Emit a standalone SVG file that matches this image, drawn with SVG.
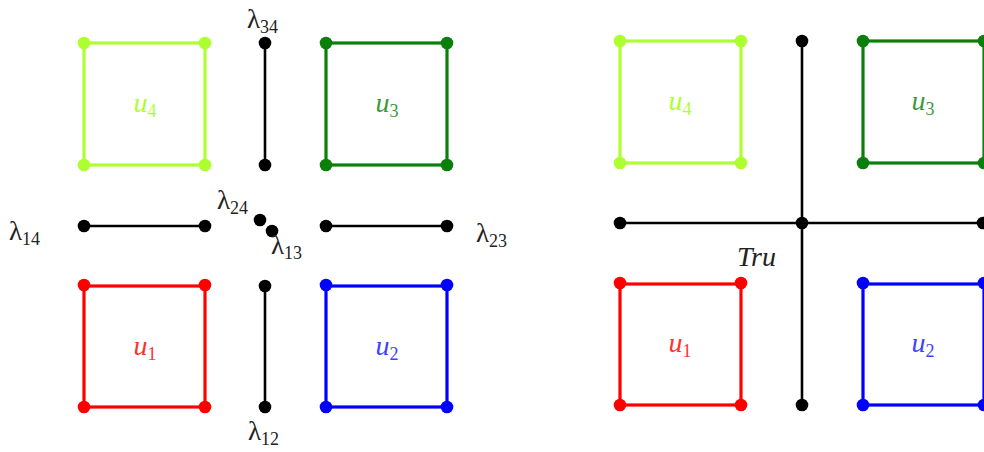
<svg xmlns="http://www.w3.org/2000/svg" width="984" height="452" viewBox="0 0 984 452">
<style>
.sq{fill:none;stroke-width:3.2}
.bl{stroke:#000;stroke-width:2.6;fill:none}
.lab{font-family:"Liberation Serif","DejaVu Serif",serif;font-size:28px}
.u{font-style:italic}
.sub{font-size:18px}
.lam{font-family:"Liberation Serif","DejaVu Serif",serif;font-size:27px;fill:#222}
</style>
<defs>
<g id="dots"><circle cx="0" cy="0" r="6.3"/><circle cx="121" cy="0" r="6.3"/><circle cx="0" cy="122" r="6.3"/><circle cx="121" cy="122" r="6.3"/></g>
</defs>
<rect width="984" height="452" fill="#fff"/>

<!-- Left panel -->
<g id="L_u4">
<rect class="sq" x="84" y="43" width="121" height="122" stroke="#adff2f"/>
<use href="#dots" x="84" y="43" fill="#adff2f"/>
<text class="lab" x="145" y="112" text-anchor="middle" fill="#adff2f"><tspan class="u">u</tspan><tspan class="sub" dy="5">4</tspan></text>
</g>
<g id="L_u3">
<rect class="sq" x="326" y="43" width="121" height="122" stroke="#0a800a"/>
<use href="#dots" x="326" y="43" fill="#0a800a"/>
<text class="lab" x="387" y="112" text-anchor="middle" fill="#3a9a3a"><tspan class="u">u</tspan><tspan class="sub" dy="5">3</tspan></text>
</g>
<g id="L_u1">
<rect class="sq" x="84" y="286" width="121" height="121" stroke="#ff0000"/>
<use href="#dots" x="84" y="285" fill="#ff0000"/>
<text class="lab" x="145" y="355" text-anchor="middle" fill="#ff3030"><tspan class="u">u</tspan><tspan class="sub" dy="5">1</tspan></text>
</g>
<g id="L_u2">
<rect class="sq" x="326" y="286" width="121" height="121" stroke="#0000ff"/>
<use href="#dots" x="326" y="285" fill="#0000ff"/>
<text class="lab" x="387" y="355" text-anchor="middle" fill="#4040ff"><tspan class="u">u</tspan><tspan class="sub" dy="5">2</tspan></text>
</g>

<g id="connectors">
<g id="lam34"><line class="bl" x1="265" y1="43" x2="265" y2="165"/><circle cx="265" cy="43" r="6.3"/><circle cx="265" cy="165" r="6.3"/></g>
<g id="lam12"><line class="bl" x1="265" y1="286" x2="265" y2="407"/><circle cx="265" cy="286" r="6.3"/><circle cx="265" cy="407" r="6.3"/></g>
<g id="lam14"><line class="bl" x1="84" y1="226" x2="205" y2="226"/><circle cx="84" cy="226" r="6.3"/><circle cx="205" cy="226" r="6.3"/></g>
<g id="lam23"><line class="bl" x1="326" y1="226" x2="447" y2="226"/><circle cx="326" cy="226" r="6.3"/><circle cx="447" cy="226" r="6.3"/></g>
<g id="lam24"><circle cx="260" cy="220" r="6.3"/></g>
<g id="lam13"><circle cx="272" cy="231" r="6.3"/></g>
<g id="R_cross">
<line class="bl" x1="802" y1="41" x2="802" y2="405"/>
<line class="bl" x1="620" y1="223" x2="990" y2="223"/>
<circle cx="802" cy="41" r="6.3"/><circle cx="802" cy="405" r="6.3"/><circle cx="620" cy="223" r="6.3"/><circle cx="802" cy="223" r="6.3"/><circle cx="983" cy="223" r="6.3"/>
</g>
</g>

<g id="lambda_labels">
<text class="lam" x="247" y="28">λ<tspan class="sub" dy="5">34</tspan></text>
<text class="lam" x="9" y="240">λ<tspan class="sub" dy="5">14</tspan></text>
<text class="lam" x="217" y="209">λ<tspan class="sub" dy="5">24</tspan></text>
<text class="lam" x="271" y="254">λ<tspan class="sub" dy="5">13</tspan></text>
<text class="lam" x="476" y="242">λ<tspan class="sub" dy="5">23</tspan></text>
<text class="lam" x="248" y="440">λ<tspan class="sub" dy="5">12</tspan></text>
</g>

<!-- Right panel -->
<g id="R_u4">
<rect class="sq" x="620" y="41" width="121" height="122" stroke="#adff2f"/>
<use href="#dots" x="620" y="41" fill="#adff2f"/>
<text class="lab" x="680" y="110" text-anchor="middle" fill="#adff2f"><tspan class="u">u</tspan><tspan class="sub" dy="5">4</tspan></text>
</g>
<g id="R_u3">
<rect class="sq" x="863" y="41" width="121" height="122" stroke="#0a800a"/>
<use href="#dots" x="863" y="41" fill="#0a800a"/>
<text class="lab" x="923" y="110" text-anchor="middle" fill="#3a9a3a"><tspan class="u">u</tspan><tspan class="sub" dy="5">3</tspan></text>
</g>
<g id="R_u1">
<rect class="sq" x="620" y="284" width="121" height="121" stroke="#ff0000"/>
<use href="#dots" x="620" y="283" fill="#ff0000"/>
<text class="lab" x="680" y="352" text-anchor="middle" fill="#ff3030"><tspan class="u">u</tspan><tspan class="sub" dy="5">1</tspan></text>
</g>
<g id="R_u2">
<rect class="sq" x="863" y="284" width="121" height="121" stroke="#0000ff"/>
<use href="#dots" x="863" y="283" fill="#0000ff"/>
<text class="lab" x="923" y="352" text-anchor="middle" fill="#4040ff"><tspan class="u">u</tspan><tspan class="sub" dy="5">2</tspan></text>
</g>
<g id="R_label">
<text class="lam" x="737" y="266" style="font-style:italic;font-size:28px">Tru</text>
</g>
</svg>
